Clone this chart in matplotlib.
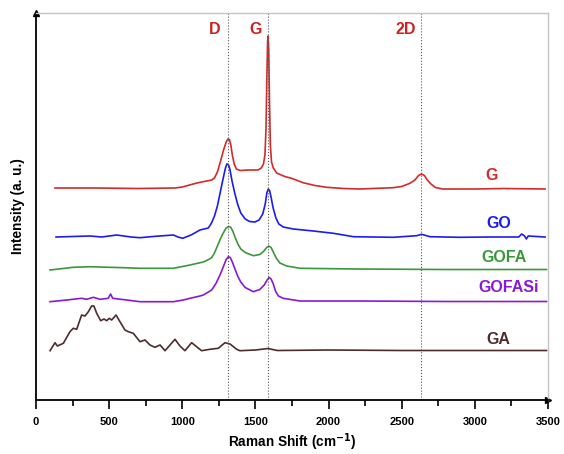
import numpy as np
import matplotlib
matplotlib.use('Agg')
import matplotlib.pyplot as plt
from matplotlib.ticker import MultipleLocator

plt.rcParams['font.family'] = ['Liberation Sans', 'DejaVu Sans']
plt.rcParams['font.weight'] = 'bold'

# Raman spectra (offset stacked, arbitrary intensity units)
g_x = [130, 400, 700, 950, 1000, 1050, 1100, 1132, 1201, 1220, 1240, 1260, 1280, 1300, 1312, 1322,
       1332, 1342, 1355, 1370, 1395, 1450, 1518, 1540, 1555, 1565, 1572, 1578, 1583, 1587, 1591, 1596,
       1602, 1610, 1622, 1645, 1700, 1747, 1826, 1900, 1987, 2100, 2215, 2441, 2500, 2556, 2590, 2615,
       2635, 2655, 2675, 2700, 2730, 2780, 3000, 3200, 3480]
g_y = [212, 212, 211.5, 212, 213, 215, 217, 218, 220, 222, 228, 238, 249, 258, 261, 260.5,
       255, 245, 236, 231, 229.5, 230, 230, 232, 236, 245, 270, 320, 358, 364, 350, 300,
       255, 238, 232, 227, 223.5, 221.7, 217.3, 214.7, 212.7, 211.5, 211, 212.3, 213.5, 216.7, 220, 224.5,
       226, 224.5, 220, 216, 212.5, 211, 211, 211.5, 211]

go_x = [137, 250, 369, 450, 551, 650, 711, 800, 939, 970, 1003, 1060, 1121, 1178, 1200, 1220, 1240,
        1260, 1280, 1295, 1305, 1315, 1325, 1340, 1360, 1380, 1400, 1430, 1460, 1497, 1525, 1550, 1567,
        1578, 1588, 1598, 1608, 1621, 1640, 1660, 1690, 1759, 1896, 2033, 2170, 2442, 2602, 2636, 2693,
        2898, 3100, 3300, 3320, 3340, 3352, 3365, 3480]
go_y = [163, 163.5, 164, 163, 165, 163, 162.3, 163.5, 165, 163, 161.7, 165, 170, 172, 177, 184, 194,
        208, 222, 232, 236, 235.5, 231, 219, 206, 195, 187, 181, 178.5, 178, 180, 186, 196,
        207, 211, 209, 202, 192, 182, 176, 173, 171, 169, 166.7, 163.3, 162.7, 164.3, 165.7, 163.3,
        162.7, 163, 163, 166, 164, 161, 164, 163]

gofa_x = [96, 255, 369, 597, 711, 939, 1053, 1144, 1180, 1201, 1220, 1240, 1260, 1280, 1300, 1315,
          1330, 1345, 1360, 1380, 1400, 1430, 1486, 1530, 1555, 1577, 1592, 1607, 1622, 1642, 1667,
          1713, 1805, 2200, 2800, 3490]
gofa_y = [130, 132.7, 133.3, 132.3, 131.7, 131.7, 135, 138, 140.5, 142.3, 147, 154, 161, 167, 172, 173.3,
          173, 169, 163, 156, 151, 147.5, 144.3, 145.5, 148.5, 152.5, 154, 152.5, 148, 142, 137,
          134, 131.7, 131, 130.5, 130.5]

gofasi_x = [96, 210, 312, 346, 392, 437, 494, 510, 524, 620, 711, 939, 1007, 1053, 1121, 1144, 1201,
            1230, 1258, 1280, 1300, 1315, 1328, 1342, 1360, 1380, 1400, 1430, 1486, 1530, 1560, 1580,
            1594, 1607, 1622, 1637, 1657, 1690, 1805, 2200, 2800, 3490]
gofasi_y = [98.3, 100, 101.7, 100.7, 102.7, 100.7, 101.7, 106, 101.7, 100, 98.3, 98.3, 100, 101.7, 104,
            105, 110, 116.5, 125, 133, 140.5, 143.3, 142.5, 138, 131, 123.5, 118, 112.5, 108.3, 110.5,
            115, 120, 122.5, 121, 116, 109, 104, 101.7, 99, 99, 98.5, 98.5]

ga_x = [96, 130, 146, 187, 232, 255, 278, 312, 335, 358, 380, 396, 415, 442, 465, 483, 501, 517, 547,
        574, 608, 631, 665, 711, 745, 779, 813, 848, 882, 916, 950, 984, 1018, 1064, 1098, 1132, 1189,
        1246, 1292, 1326, 1372, 1394, 1500, 1586, 1650, 2000, 2500, 3000, 3490]
ga_y = [49.3, 57.3, 54, 56.7, 68.3, 71.7, 70.7, 85, 84, 88.3, 94, 94, 86.7, 79.3, 81, 79.3, 81.7, 80, 85,
        78.3, 70, 68.3, 66.7, 58.3, 60, 55, 52.7, 55, 49.3, 55, 60.7, 54, 49.3, 57.3, 53.3, 49.3, 50.7,
        51.7, 57.3, 56, 50.7, 49.3, 50, 51.5, 49.5, 50, 49.5, 49.5, 49.5]

band_pos = [1314, 1584, 2633]
band_names = ['D', 'G', '2D']
band_label_x = [1222, 1503, 2525]

names = ['G', 'GO', 'GOFA', 'GOFASi', 'GA']
colors = ['#d42a2a', '#1c1cf0', '#3a983a', '#8a18d6', '#4e2c2c']
label_xy = [(3117, 225), (3160, 177), (3200, 142), (3230, 113), (3160, 60)]

fig = plt.figure(figsize=(5.64, 4.54), dpi=100)
ax = fig.add_axes([36 / 564, 54 / 454, 512 / 564, 387 / 454])

for xs, ys, c in zip([g_x, go_x, gofa_x, gofasi_x, ga_x], [g_y, go_y, gofa_y, gofasi_y, ga_y], colors):
    ax.plot(xs, ys, color=c, lw=1.2)

for bx, bl, tx in zip(band_pos, band_names, band_label_x):
    ax.axvline(bx, color='#555555', ls=':', lw=0.8)
    ax.text(tx, 370, bl, color='#cc2222', fontsize=11.5, fontweight='bold', ha='center', va='center')

for n, c, (lx, ly) in zip(names, colors, label_xy):
    ax.text(lx, ly, n, color=c, fontsize=11.5, fontweight='bold', ha='center', va='center')

ax.set_xlim(0, 3500)
ax.set_ylim(0, 387)
ax.xaxis.set_major_locator(MultipleLocator(500))
ax.xaxis.set_minor_locator(MultipleLocator(250))
ax.tick_params(axis='x', which='major', direction='out', length=6.5, width=1.2, pad=6, labelsize=8)
ax.tick_params(axis='x', which='minor', direction='out', length=4, width=1.2)
ax.set_yticks([])
for lab in ax.get_xticklabels():
    lab.set_fontweight('bold')

for s in ['top', 'right']:
    ax.spines[s].set_color('#c4c4c4')
    ax.spines[s].set_linewidth(1.0)
for s in ['left', 'bottom']:
    ax.spines[s].set_color('black')
    ax.spines[s].set_linewidth(1.3)

# arrow heads on the axes
ax.plot(0, 1, '^', color='black', ms=5, transform=ax.transAxes, clip_on=False)
ax.plot(1, 0, '>', color='black', ms=5, transform=ax.transAxes, clip_on=False)

ax.set_xlabel('Raman Shift (cm$^{\\mathbf{-1}}$)', fontsize=9.8, fontweight='bold', labelpad=3)
ax.set_ylabel('Intensity (a. u.)', fontsize=9.8, fontweight='bold', labelpad=8)

fig.savefig('out.png', dpi=100)
